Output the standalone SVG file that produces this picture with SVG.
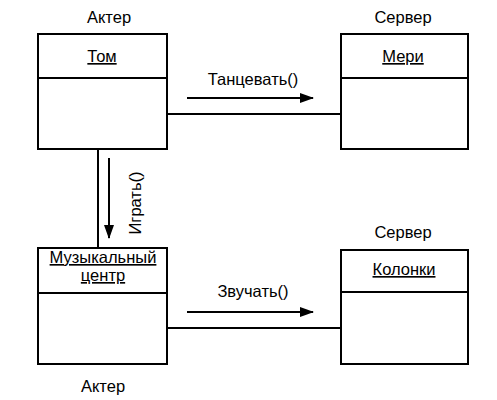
<svg xmlns="http://www.w3.org/2000/svg" width="497" height="400" viewBox="0 0 497 400">
<style>
.box{fill:#fff;stroke:#000;stroke-width:2}
.div{stroke:#000;stroke-width:2}
.t{font-family:"Liberation Sans",Arial,sans-serif;font-size:16.5px;fill:#000;text-anchor:middle}
.u{text-decoration:underline}
.ln{stroke:#000;stroke-width:2;fill:none}
</style>
<defs>
<marker id="ah" markerWidth="14" markerHeight="10" refX="13" refY="5" orient="auto" markerUnits="userSpaceOnUse">
<path d="M0,0 L14,5 L0,10 Z" fill="#000"/>
</marker>
</defs>
<g id="connectors">
<line class="ln" x1="167" y1="114" x2="341" y2="114"/>
<line class="ln" x1="167" y1="328" x2="341" y2="328"/>
<line class="ln" x1="98" y1="149" x2="98" y2="248"/>
<line class="ln" x1="187" y1="98" x2="313" y2="98" marker-end="url(#ah)"/>
<text class="t" x="253" y="85">Танцевать()</text>
<line class="ln" x1="187" y1="312" x2="313" y2="312" marker-end="url(#ah)"/>
<text class="t" x="253" y="297">Звучать()</text>
<line class="ln" x1="109" y1="158" x2="109" y2="238" marker-end="url(#ah)"/>
<text class="t" x="0" y="0" transform="translate(141,203) rotate(-90)">Играть()</text>
</g>
<g id="tom">
<text class="t" x="109" y="23">Актер</text>
<rect class="box" x="38" y="34" width="129" height="115"/>
<line class="div" x1="38" y1="78" x2="167" y2="78"/>
<text class="t u" x="102" y="62">Том</text>
</g>
<g id="meri">
<text class="t" x="403" y="23">Сервер</text>
<rect class="box" x="341" y="34" width="127" height="115"/>
<line class="div" x1="341" y1="78" x2="468" y2="78"/>
<text class="t u" x="403" y="62">Мери</text>
</g>
<g id="music">
<rect class="box" x="38" y="248" width="129" height="116"/>
<line class="div" x1="38" y1="293" x2="167" y2="293"/>
<text class="t u" x="103" y="263">Музыкальный</text>
<text class="t u" x="103" y="281">центр</text>
<text class="t" x="103" y="392">Актер</text>
</g>
<g id="kolonki">
<text class="t" x="403" y="238">Сервер</text>
<rect class="box" x="341" y="250" width="127" height="114"/>
<line class="div" x1="341" y1="292" x2="468" y2="292"/>
<text class="t u" x="404" y="275">Колонки</text>
</g>
</svg>
